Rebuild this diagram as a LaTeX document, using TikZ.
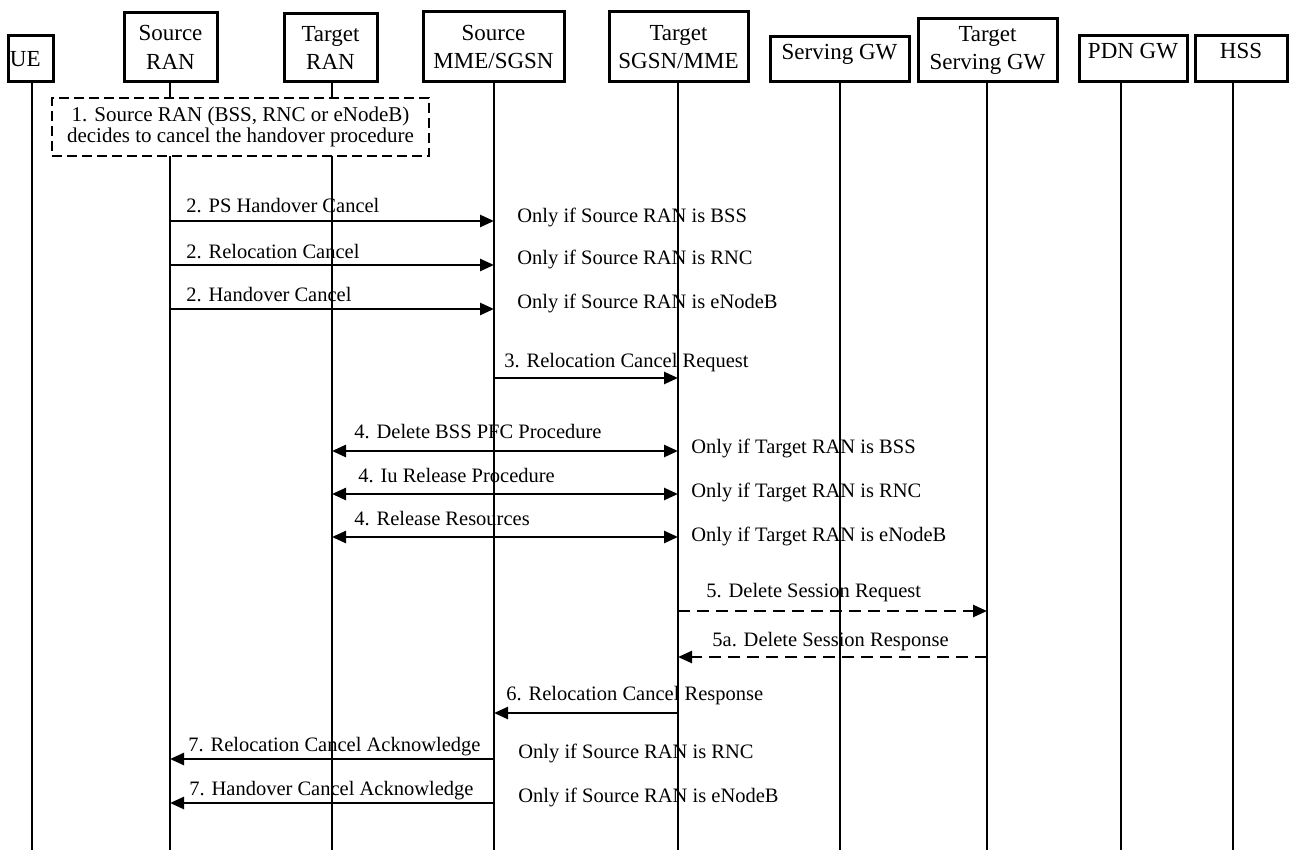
\documentclass[tikz,border=0pt]{standalone}
\usepackage{fontspec}
\setmainfont{Liberation Serif}
\usetikzlibrary{arrows.meta}
\begin{document}
\begin{tikzpicture}[x=0.5pt,y=-0.5pt,
  hdr/.style={draw, line width=1.5pt, inner sep=0pt, font=\fontsize{11.5}{14.25}\selectfont, align=center},
  hdrone/.style={hdr, text height=6pt, text depth=6pt},
  life/.style={line width=1pt},
  tip/.tip={Triangle[length=7pt,width=6pt]},
  msg/.style={line width=1.25pt, -tip},
  dmsg/.style={msg, dash pattern=on 6pt off 3.5pt},
  bmsg/.style={line width=1.25pt, tip-tip},
  lbl/.style={font=\fontsize{10.25}{12}\selectfont, anchor=base west, inner sep=0pt},
  decide/.style={draw, line width=1pt, dash pattern=on 5pt off 2.5pt, fill=white, inner sep=0pt, align=center, font=\fontsize{10.5}{10.5}\selectfont}
]
\useasboundingbox (0,0) rectangle (1289,850);

% header boxes
\node[hdr, minimum width=22.5pt, minimum height=23pt, text width=20.5pt, align=left] (ue) at (30.5,59) {UE};
\node[hdr, minimum width=46.5pt, minimum height=34.5pt] (srcran) at (170.5,47.5) {Source\\RAN};
\node[hdr, minimum width=46.5pt, minimum height=34pt] (tgtran) at (330.5,48) {Target\\RAN};
\node[hdr, minimum width=70.5pt, minimum height=35pt] (srcmme) at (493.5,47) {Source\\MME/SGSN};
\node[hdr, minimum width=69.5pt, minimum height=35pt] (tgtsgsn) at (678.5,47) {Target\\SGSN/MME};
\node[hdrone, minimum width=69.5pt, minimum height=22.5pt] (sgw) at (839.5,59.5) {Serving GW};
\node[hdr, minimum width=69.5pt, minimum height=31.5pt] (tsgw) at (987.5,50.5) {Target\\Serving GW};
\node[hdrone, minimum width=54pt, minimum height=23pt] (pgw) at (1133,59) {PDN GW};
\node[hdrone, minimum width=46pt, minimum height=23pt] (hss) at (1241,59) {HSS};

% lifeline tops
\coordinate (ue-t) at (32,82);
\coordinate (srcran-t) at (170,82);
\coordinate (tgtran-t) at (332,82);
\coordinate (srcmme-t) at (494,82);
\coordinate (tgtsgsn-t) at (678,82);
\coordinate (sgw-t) at (840,82);
\coordinate (tsgw-t) at (987,82);
\coordinate (pgw-t) at (1121,82);
\coordinate (hss-t) at (1233,82);
\foreach \p in {ue,srcran,tgtran,srcmme,tgtsgsn,sgw,tsgw,pgw,hss}
  \draw[life] (\p-t) -- (\p-t |- 0,850);

% step 1
\node[decide, minimum width=188.5pt, minimum height=29pt] (n1) at (240.5,127)
  {1. Source RAN (BSS, RNC or eNodeB)\\decides to cancel the handover procedure};

% step 2
\draw[msg] (srcran-t |- 0,221) -- (srcmme-t |- 0,221);
\node[lbl] (l2a) at (186,213) {2. PS Handover Cancel};
\node[lbl] (c2a) at (517,222) {Only if Source RAN is BSS};
\draw[msg] (srcran-t |- 0,265) -- (srcmme-t |- 0,265);
\node[lbl] (l2b) at (186,258) {2. Relocation Cancel};
\node[lbl] (c2b) at (517,264) {Only if Source RAN is RNC};
\draw[msg] (srcran-t |- 0,309) -- (srcmme-t |- 0,309);
\node[lbl] (l2c) at (186,301) {2. Handover Cancel};
\node[lbl] (c2c) at (517,308) {Only if Source RAN is eNodeB};

% step 3
\draw[msg] (srcmme-t |- 0,378) -- (tgtsgsn-t |- 0,378);
\node[lbl] (l3) at (504,367) {3. Relocation Cancel Request};

% step 4
\draw[bmsg] (tgtran-t |- 0,451) -- (tgtsgsn-t |- 0,451);
\node[lbl] (l4a) at (354,438) {4. Delete BSS PFC Procedure};
\node[lbl] (c4a) at (691,453) {Only if Target RAN is BSS};
\draw[bmsg] (tgtran-t |- 0,494) -- (tgtsgsn-t |- 0,494);
\node[lbl] (l4b) at (358,482) {4. Iu Release Procedure};
\node[lbl] (c4b) at (691,497) {Only if Target RAN is RNC};
\draw[bmsg] (tgtran-t |- 0,537) -- (tgtsgsn-t |- 0,537);
\node[lbl] (l4c) at (354,525) {4. Release Resources};
\node[lbl] (c4c) at (691,541) {Only if Target RAN is eNodeB};

% step 5
\draw[dmsg] (tgtsgsn-t |- 0,611) -- (tsgw-t |- 0,611);
\node[lbl] (l5) at (706,597) {5. Delete Session Request};
\draw[dmsg] (tsgw-t |- 0,657) -- (tgtsgsn-t |- 0,657);
\node[lbl] (l5a) at (712,646) {5a. Delete Session Response};

% step 6
\draw[msg] (tgtsgsn-t |- 0,713) -- (srcmme-t |- 0,713);
\node[lbl] (l6) at (506,700) {6. Relocation Cancel Response};

% step 7
\draw[msg] (srcmme-t |- 0,759) -- (srcran-t |- 0,759);
\node[lbl] (l7a) at (188,751) {7. Relocation Cancel Acknowledge};
\node[lbl] (c7a) at (518,758) {Only if Source RAN is RNC};
\draw[msg] (srcmme-t |- 0,803) -- (srcran-t |- 0,803);
\node[lbl] (l7b) at (189,795) {7. Handover Cancel Acknowledge};
\node[lbl] (c7b) at (518,802) {Only if Source RAN is eNodeB};
\end{tikzpicture}
\end{document}
